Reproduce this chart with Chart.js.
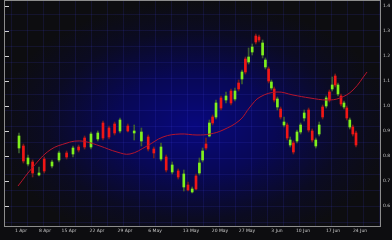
<!DOCTYPE html>
<html>
<head>
<meta charset="utf-8">
<script src="https://cdn.jsdelivr.net/npm/chart.js@4.4.1/dist/chart.umd.min.js"></script>
<style>
  html, body { margin: 0; padding: 0; background: #0d0d10; }
</style>
</head>
<body>
<canvas id="candleChart" width="392" height="240"></canvas>
<script>
// candle data (day offset from 1 Apr, open / high / low / close)
const days = [0, 1.1, 2.25, 3.4, 5, 6.3, 8.25, 10, 11.9, 13.5, 14.9, 16.4, 18, 19.7, 21, 22.5, 23.9, 25.25, 27.2,
  28.8, 30.6, 32.3, 33.7, 35.5, 36.8, 38.3, 39.8, 41.2, 42.25, 43.3, 44.25, 45.1, 45.9, 46.75, 47.6, 48.4,
  49.25, 50.5, 51.75, 53, 54, 54.9, 55.75, 56.6, 57.4, 58.3, 59.2,
  60, 60.9, 61.6, 62.4, 63.1, 63.8, 64.6, 65.4, 66.25, 67.05, 67.8, 68.6, 69.5, 70.4, 71.3, 72.4, 73.3, 74.2,
  75.05, 75.9, 76.8, 77.6, 78.3, 79.05, 79.75, 80.5, 81.25, 81.95, 82.7, 83.45, 84.25];
const open = [0.832, 0.84, 0.768, 0.776, 0.724, 0.788, 0.76, 0.784, 0.812, 0.808, 0.836, 0.872, 0.836, 0.868, 0.932, 0.912, 0.928, 0.9, 0.92,
  0.892, 0.86, 0.876, 0.828, 0.788, 0.796, 0.736, 0.74, 0.676, 0.684, 0.656, 0.72, 0.732, 0.784, 0.848, 0.88, 0.956,
  0.956, 1.032, 1.024, 1.06, 1.028, 1.092, 1.108, 1.188, 1.176, 1.216, 1.28,
  1.276, 1.204, 1.156, 1.148, 1.072, 1.068, 0.996, 0.988, 0.924, 0.924, 0.844, 0.852, 0.86, 0.896, 0.952, 0.984, 0.9, 0.84,
  0.888, 0.996, 1.0, 1.056, 1.068, 1.12, 1.048, 1.04, 0.996, 0.992, 0.916, 0.916, 0.892];
const high = [0.892, 0.848, 0.804, 0.784, 0.756, 0.796, 0.784, 0.82, 0.82, 0.84, 0.844, 0.88, 0.896, 0.9, 0.94, 0.92, 0.936, 0.952, 0.928,
  0.924, 0.912, 0.884, 0.836, 0.852, 0.804, 0.776, 0.748, 0.744, 0.696, 0.676, 0.728, 0.792, 0.832, 0.872, 0.944, 0.964,
  1.024, 1.04, 1.056, 1.068, 1.072, 1.104, 1.144, 1.196, 1.232, 1.248, 1.288,
  1.284, 1.264, 1.192, 1.156, 1.104, 1.076, 1.036, 0.996, 0.956, 0.932, 0.876, 0.86, 0.904, 0.932, 0.984, 0.992, 0.908, 0.872,
  0.936, 1.004, 1.04, 1.064, 1.116, 1.128, 1.092, 1.048, 1.02, 1.0, 0.952, 0.924, 0.9];
const low = [0.812, 0.772, 0.76, 0.716, 0.72, 0.732, 0.752, 0.776, 0.788, 0.796, 0.816, 0.828, 0.828, 0.86, 0.864, 0.868, 0.884, 0.892, 0.896,
  0.864, 0.84, 0.82, 0.792, 0.78, 0.736, 0.728, 0.708, 0.66, 0.66, 0.652, 0.664, 0.724, 0.776, 0.824, 0.876, 0.924,
  0.948, 0.984, 1.012, 1.004, 1.02, 1.06, 1.088, 1.128, 1.168, 1.204, 1.248,
  1.256, 1.192, 1.148, 1.092, 1.064, 1.016, 0.984, 0.948, 0.916, 0.864, 0.836, 0.808, 0.852, 0.888, 0.94, 0.896, 0.856, 0.832,
  0.88, 0.948, 0.992, 1.016, 1.06, 1.076, 1.04, 1.0, 0.988, 0.944, 0.908, 0.88, 0.836];
const close = [0.88, 0.78, 0.792, 0.732, 0.732, 0.74, 0.776, 0.812, 0.796, 0.832, 0.824, 0.836, 0.888, 0.892, 0.872, 0.876, 0.892, 0.944, 0.9,
  0.9, 0.896, 0.828, 0.812, 0.836, 0.744, 0.764, 0.716, 0.728, 0.664, 0.668, 0.668, 0.772, 0.82, 0.832, 0.932, 0.932,
  1.012, 0.992, 1.04, 1.012, 1.06, 1.068, 1.136, 1.136, 1.196, 1.236, 1.256,
  1.264, 1.252, 1.184, 1.1, 1.096, 1.024, 1.028, 0.956, 0.936, 0.872, 0.864, 0.816, 0.896, 0.924, 0.972, 0.904, 0.864, 0.864,
  0.924, 0.956, 1.032, 1.024, 1.084, 1.084, 1.084, 1.008, 1.012, 0.952, 0.944, 0.888, 0.844];

// smoothed trend line
const trendDays = [-0.25, 3.5, 7.75, 12, 14.5, 17, 20.25, 24.5, 27.75, 32, 36, 40.25, 44.5, 47.75, 51, 55.25, 57.75,
  60.25, 64.5, 68.5, 72.75, 77, 80.25, 83.5, 87];
const trendValues = [0.68, 0.756, 0.824, 0.852, 0.86, 0.856, 0.84, 0.816, 0.808, 0.84, 0.876, 0.888, 0.884, 0.888, 0.904, 0.944, 0.996,
  1.036, 1.056, 1.044, 1.032, 1.024, 1.032, 1.064, 1.136];

// axis labels
const xTickDays = [0.5, 6.5, 12.5, 19.5, 26.5, 34, 43, 50.25, 57, 64.5, 71, 78.5, 85.25];
const xTickLabels = ["1 Apr", "8 Apr", "15 Apr", "22 Apr", "29 Apr", "6 May", "13 May", "20 May", "27 May", "3 Jun", "10 Jun", "17 Jun", "24 Jun"];
const yTicks = [0.6, 0.7, 0.8, 0.9, 1.0, 1.1, 1.2, 1.3, 1.4];

const upColor = "#7ff01c";
const downColor = "#f01616";
const isUp = open.map((o, i) => close[i] >= o);

// background glow, grid mesh, frame
const backdrop = {
  id: "backdrop",
  beforeDraw(chart) {
    const { ctx, chartArea: a, width, height } = chart;
    ctx.save();
    ctx.fillStyle = "#0d0d10";
    ctx.fillRect(0, 0, width, height);
    ctx.beginPath();
    ctx.rect(a.left, a.top, a.right - a.left, a.bottom - a.top);
    ctx.clip();
    ctx.save();
    ctx.translate(195, 125);
    ctx.scale(1.6, 1);
    const g = ctx.createRadialGradient(0, 0, 0, 0, 0, 125);
    g.addColorStop(0, "rgb(8,8,125)");
    g.addColorStop(0.4, "rgb(8,8,85)");
    g.addColorStop(0.75, "rgb(11,11,34)");
    g.addColorStop(1, "rgb(13,13,16)");
    ctx.fillStyle = g;
    ctx.fillRect(-200, -200, 400, 400);
    ctx.restore();
    ctx.strokeStyle = "rgba(70,70,255,0.12)";
    ctx.lineWidth = 1;
    ctx.beginPath();
    for (let x = a.right - 0.5; x > a.left; x -= 16) { ctx.moveTo(x, a.top); ctx.lineTo(x, a.bottom); }
    for (let y = 14.5; y < a.bottom; y += 16) { ctx.moveTo(a.left, y); ctx.lineTo(a.right, y); }
    ctx.stroke();
    ctx.restore();
  },
  afterDraw(chart) {
    const { ctx, chartArea: a, scales } = chart;
    ctx.save();
    ctx.strokeStyle = "#8c8c8c";
    ctx.lineWidth = 1;
    ctx.strokeRect(a.left - 0.5, a.top - 0.5, a.right - a.left + 1, a.bottom - a.top + 1);
    ctx.fillStyle = "#d0d0d0";
    scales.y.ticks.forEach((t) => {
      const py = Math.round(scales.y.getPixelForValue(t.value));
      ctx.fillRect(a.left, py, 4, 1);
    });
    ctx.restore();
  },
};

const chartConfig = {
  type: "bar",
  data: {
    datasets: [
      {
        type: "line",
        data: trendDays.map((d, i) => ({ x: d, y: trendValues[i] })),
        borderColor: "#b5142c",
        borderWidth: 1,
        pointRadius: 0,
        tension: 0.4,
        order: 0,
      },
      {
        data: days.map((d, i) => ({ x: d, y: [open[i], close[i]] })),
        backgroundColor: isUp.map((u) => (u ? upColor : downColor)),
        barThickness: 2,
        grouped: false,
        order: 1,
      },
      {
        data: days.map((d, i) => ({ x: d, y: [low[i], high[i]] })),
        backgroundColor: isUp.map((u) => (u ? "#3d5e30" : "#6e1c1c")),
        barThickness: 1,
        grouped: false,
        order: 2,
      },
    ],
  },
  options: {
    responsive: false,
    animation: false,
    layout: { autoPadding: false, padding: { left: 5, top: 1, right: 0, bottom: 0 } },
    plugins: { legend: { display: false }, tooltip: { enabled: false } },
    scales: {
      x: {
        type: "linear",
        offset: false,
        min: -3.5,
        max: 90.25,
        grid: { display: false, drawTicks: false },
        border: { display: false },
        afterBuildTicks: (s) => { s.ticks = xTickDays.map((v) => ({ value: v })); },
        afterFit: (s) => { s.height = 14; s.paddingLeft = 0; s.paddingRight = 0; },
        ticks: {
          autoSkip: false,
          maxRotation: 0,
          padding: 2,
          color: "#c8c8c8",
          font: { family: "DejaVu Sans", size: 4.5 },
          callback: (v, i) => xTickLabels[i],
        },
      },
      y: {
        position: "right",
        min: 0.52,
        max: 1.42,
        grid: { display: false, drawTicks: false },
        border: { display: false },
        afterBuildTicks: (s) => { s.ticks = yTicks.map((v) => ({ value: v })); },
        afterFit: (s) => { s.width = 12; s.paddingTop = 0; s.paddingBottom = 0; },
        ticks: {
          autoSkip: false,
          padding: 3,
          color: "#c8c8c8",
          font: { family: "DejaVu Sans", size: 4.5 },
          callback: (v) => v.toFixed(1),
        },
      },
    },
  },
  plugins: [backdrop],
};

const candleChart = new Chart(document.getElementById("candleChart"), chartConfig);
</script>
</body>
</html>
